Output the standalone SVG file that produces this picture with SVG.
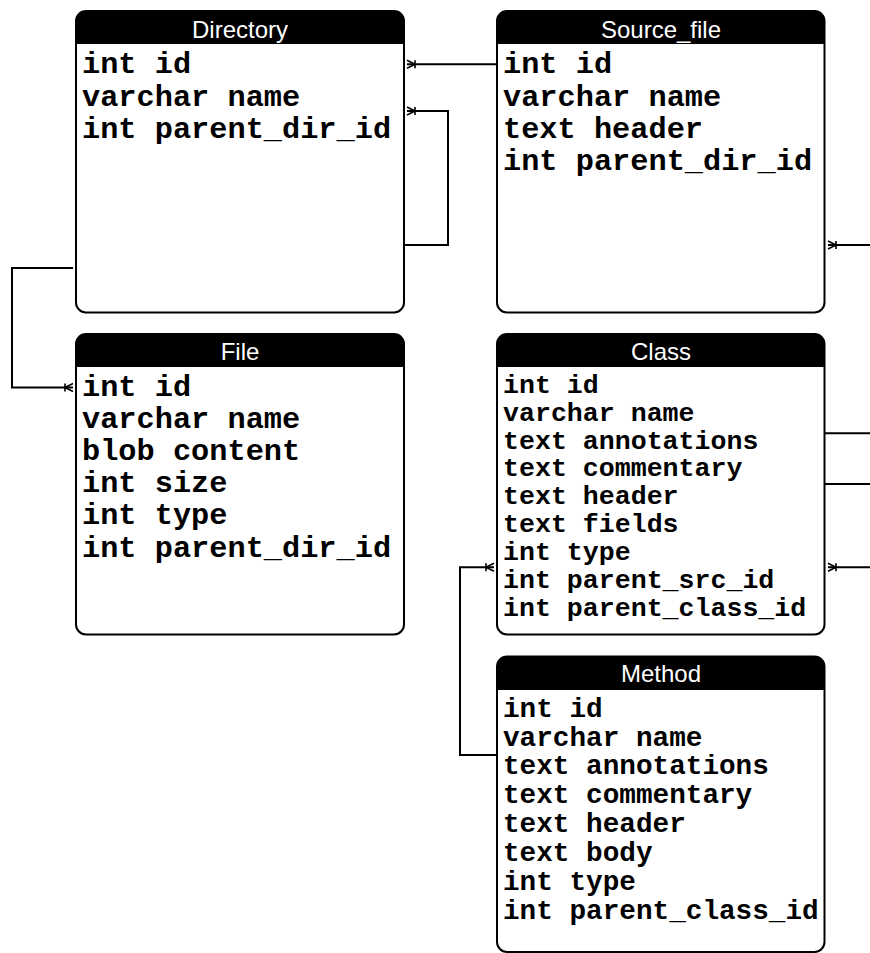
<svg xmlns="http://www.w3.org/2000/svg" width="870" height="953" viewBox="0 0 870 953">
<style>
.box{fill:#fff;stroke:#000;stroke-width:2}
.hdr{fill:#000}
.ttl{font-family:"Liberation Sans",Arial,sans-serif;font-size:24px;fill:#fff;text-anchor:middle}
.row{font-family:"Liberation Mono","Courier New",monospace;font-weight:bold;fill:#000}
.big{font-size:30.3px}
.cls{font-size:26.6px}
.mth{font-size:27.7px}
.conn{fill:none;stroke:#000;stroke-width:2}
</style>
<defs>
<marker id="many" markerUnits="userSpaceOnUse" markerWidth="14" markerHeight="12" viewBox="-11 -6 14 12" refX="0" refY="0" orient="auto" overflow="visible">
<path d="M0,-4 L-8,0 L0,4 M-8,-4 V4" fill="none" stroke="#000" stroke-width="1.6"/>
</marker>
</defs>
<g id="connectors">
<path class="conn" d="M497,64.3 H407" marker-end="url(#many)"/>
<path class="conn" d="M404,245 H448 V111 H407" marker-end="url(#many)"/>
<path class="conn" d="M73,268 H12 V387.5 H73" marker-end="url(#many)"/>
<path class="conn" d="M870,245 H828" marker-end="url(#many)"/>
<path class="conn" d="M824,433.3 H870"/>
<path class="conn" d="M824,498 V484 H870"/>
<path class="conn" d="M870,567.3 H828" marker-end="url(#many)"/>
<path class="conn" d="M497,755 H460 V567.3 H494" marker-end="url(#many)"/>
</g>
<g id="Directory">
<rect class="box" x="76" y="11" width="328" height="301.5" rx="10"/>
<path class="hdr" d="M76,21 a10,10 0 0 1 10,-10 H394 a10,10 0 0 1 10,10 V44 H76 Z"/>
<text class="ttl" x="240" y="37.5">Directory</text>
<text class="row big" x="82" y="73.3">int id</text>
<text class="row big" x="82" y="105.5">varchar name</text>
<text class="row big" x="82" y="137.5">int parent_dir_id</text>
</g>
<g id="Source_file">
<rect class="box" x="497" y="11" width="327.5" height="301.5" rx="10"/>
<path class="hdr" d="M497,21 a10,10 0 0 1 10,-10 H814.5 a10,10 0 0 1 10,10 V44 H497 Z"/>
<text class="ttl" x="661" y="37.5">Source_file</text>
<text class="row big" x="503" y="73.3">int id</text>
<text class="row big" x="503" y="105.5">varchar name</text>
<text class="row big" x="503" y="137.5">text header</text>
<text class="row big" x="503" y="170">int parent_dir_id</text>
</g>
<g id="File">
<rect class="box" x="76" y="334" width="328" height="300.5" rx="10"/>
<path class="hdr" d="M76,344 a10,10 0 0 1 10,-10 H394 a10,10 0 0 1 10,10 V367 H76 Z"/>
<text class="ttl" x="240" y="360">File</text>
<text class="row big" x="82" y="396">int id</text>
<text class="row big" x="82" y="428.3">varchar name</text>
<text class="row big" x="82" y="460.3">blob content</text>
<text class="row big" x="82" y="492.3">int size</text>
<text class="row big" x="82" y="524.4">int type</text>
<text class="row big" x="82" y="556.6">int parent_dir_id</text>
</g>
<g id="Class">
<rect class="box" x="497" y="334" width="327.5" height="300.5" rx="10"/>
<path class="hdr" d="M497,344 a10,10 0 0 1 10,-10 H814.5 a10,10 0 0 1 10,10 V367 H497 Z"/>
<text class="ttl" x="661" y="360">Class</text>
<text class="row cls" x="503" y="392.7">int id</text>
<text class="row cls" x="503" y="420.6">varchar name</text>
<text class="row cls" x="503" y="448.5">text annotations</text>
<text class="row cls" x="503" y="476.4">text commentary</text>
<text class="row cls" x="503" y="504.3">text header</text>
<text class="row cls" x="503" y="532.2">text fields</text>
<text class="row cls" x="503" y="560.1">int type</text>
<text class="row cls" x="503" y="588">int parent_src_id</text>
<text class="row cls" x="503" y="616">int parent_class_id</text>
</g>
<g id="Method">
<rect class="box" x="497" y="656.5" width="327.5" height="295.5" rx="10"/>
<path class="hdr" d="M497,666.5 a10,10 0 0 1 10,-10 H814.5 a10,10 0 0 1 10,10 V690 H497 Z"/>
<text class="ttl" x="661" y="682">Method</text>
<text class="row mth" x="503" y="716.7">int id</text>
<text class="row mth" x="503" y="745.5">varchar name</text>
<text class="row mth" x="503" y="774.3">text annotations</text>
<text class="row mth" x="503" y="803.2">text commentary</text>
<text class="row mth" x="503" y="832.2">text header</text>
<text class="row mth" x="503" y="861.3">text body</text>
<text class="row mth" x="503" y="890">int type</text>
<text class="row mth" x="503" y="918.5">int parent_class_id</text>
</g>
</svg>
